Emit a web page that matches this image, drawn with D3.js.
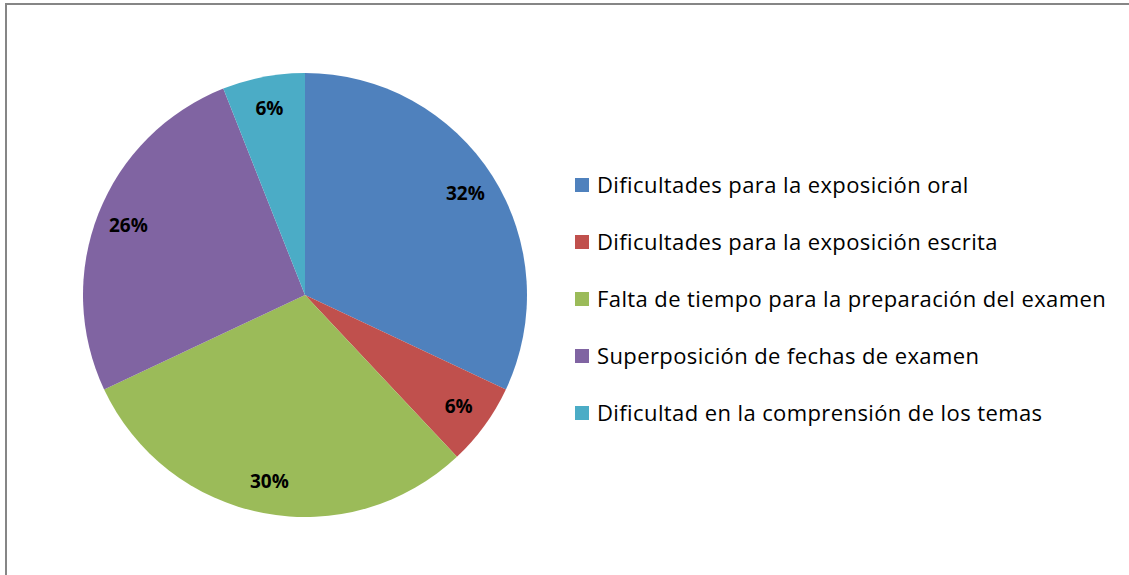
<!DOCTYPE html>
<html lang="es">
<head>
<meta charset="UTF-8">
<title>Dificultades</title>
<script src="https://d3js.org/d3.v7.min.js"></script>
<style>
    body { margin: 0; background: #fff; }
    svg { display: block; }
</style>
</head>
<body>
<div id="chart"></div>
<script>
    // datos
    const categories = [
        "Dificultades para la exposición oral",
        "Dificultades para la exposición escrita",
        "Falta de tiempo para la preparación del examen",
        "Superposición de fechas de examen",
        "Dificultad en la comprensión de los temas"
    ];
    const values = [32, 6, 30, 26, 6];
    const colors = ["#4F81BD", "#C0504D", "#9BBB59", "#8064A2", "#4BACC6"];

    const width = 1129, height = 575;
    const fontFamily = "'Open Sans', Lato, sans-serif";

    const svg = d3.select("#chart").append("svg")
        .attr("width", width)
        .attr("height", height);

    // marco del gráfico
    svg.append("rect")
        .attr("x", 6).attr("y", 4)
        .attr("width", width + 10).attr("height", height + 10)
        .attr("fill", "#fff")
        .attr("stroke", "#868686")
        .attr("stroke-width", 2);

    const cx = 305, cy = 295, radius = 222;
    const g = svg.append("g").attr("transform", "translate(" + cx + "," + cy + ")");

    const data = categories.map((c, i) => ({ name: c, value: values[i], color: colors[i] }));
    const pie = d3.pie().value(d => d.value).sort(null);
    const arc = d3.arc().innerRadius(0).outerRadius(radius);
    const labelArc = d3.arc().innerRadius(190).outerRadius(190);

    g.selectAll("path")
        .data(pie(data))
        .enter().append("path")
        .attr("d", arc)
        .attr("fill", d => d.data.color);

    const total = d3.sum(values);
    g.selectAll("text")
        .data(pie(data))
        .enter().append("text")
        .attr("transform", d => "translate(" + labelArc.centroid(d) + ")")
        .attr("dy", "0.35em")
        .attr("text-anchor", "middle")
        .style("font-family", fontFamily)
        .style("font-weight", "bold")
        .style("font-size", "19px")
        .attr("fill", "#000")
        .text(d => Math.round(d.data.value / total * 100) + "%");

    // leyenda
    const legendY = d3.scalePoint().domain(categories).range([185, 413]);
    const legend = svg.append("g").selectAll("g")
        .data(data)
        .enter().append("g")
        .attr("transform", d => "translate(575," + legendY(d.name) + ")");

    legend.append("rect")
        .attr("x", 0).attr("y", -7)
        .attr("width", 14).attr("height", 14)
        .attr("fill", d => d.color);

    legend.append("text")
        .attr("x", 22)
        .attr("dy", "0.35em")
        .style("font-family", fontFamily)
        .style("font-size", "22px")
        .style("letter-spacing", "0.4px")
        .attr("fill", "#000")
        .text(d => d.name);
</script>
</body>
</html>
